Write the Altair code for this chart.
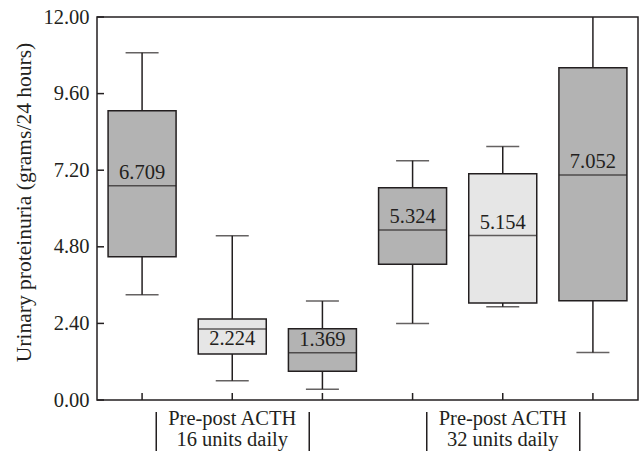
import altair as alt
import pandas as pd

# ---- data ----
cats = ["pre16", "post16", "after16", "pre32", "post32", "after32"]
whisk_lo = [3.30, 0.60, 0.34, 2.40, 2.92, 1.49]
q1 = [4.49, 1.44, 0.90, 4.25, 3.04, 3.11]
median = [6.709, 2.224, 1.48, 5.324, 5.154, 7.052]
q3 = [9.06, 2.54, 2.23, 6.65, 7.09, 10.41]
whisk_hi = [10.88, 5.15, 3.10, 7.50, 7.94, 12.6]
labels = ["6.709", "2.224", "1.369", "5.324", "5.154", "7.052"]
label_side = ["above", "below", "above", "above", "above", "above"]
shade = ["dark", "light", "dark", "dark", "light", "dark"]

y_ticks = [0.0, 2.4, 4.8, 7.2, 9.6, 12.0]
group_cats = ["post16", "post32"]
group_labels = ["Pre-post ACTH\n16 units daily", "Pre-post ACTH\n32 units daily"]

FONT = "Liberation Serif"
INK = "#231f20"
FS = 20.5
SW = 1.5
W, H = 541, 383

df = pd.DataFrame(dict(cat=cats, lo=whisk_lo, q1=q1, med=median, q3=q3,
                       hi=whisk_hi, label=labels, side=label_side, shade=shade))
ticks_df = pd.DataFrame(dict(v=y_ticks))
xt_df = pd.DataFrame(dict(cat=cats))
grp_df = pd.DataFrame(dict(cat=group_cats, text=group_labels))

xs = alt.Scale(domain=cats, paddingInner=0, paddingOuter=0)
ys = alt.Scale(domain=[0, 12], nice=False, zero=False)

X = alt.X("cat:N", scale=xs, axis=None)
Ybase = alt.Y("lo:Q", scale=ys,
              axis=alt.Axis(values=y_ticks, format=".2f", ticks=False, domain=False,
                            grid=False, labelPadding=8, labelFont=FONT, labelFontSize=FS,
                            labelColor=INK, title="Urinary proteinuria (grams/24 hours)",
                            titleFont=FONT, titleFontSize=21.5, titleFontWeight="normal",
                            titleColor=INK, titleX=-73, titleY=185, titleAngle=270,
                            titleAlign="center", titleBaseline="middle"))

base = alt.Chart(df)

whisker = base.mark_rule(color=INK, strokeWidth=SW, clip=True).encode(
    x=X, y=Ybase, y2="hi:Q")
box = base.mark_bar(size=68, stroke=INK, strokeWidth=SW).encode(
    x=X, y=alt.Y("q1:Q", scale=ys), y2="q3:Q",
    color=alt.Color("shade:N", scale=alt.Scale(domain=["dark", "light"],
                                               range=["#b3b3b3", "#e6e6e6"]), legend=None))
med = base.mark_tick(size=68, thickness=SW, color=INK).encode(
    x=X, y=alt.Y("med:Q", scale=ys))
cap_lo = base.mark_tick(size=33, thickness=SW, color=INK, clip=True).encode(
    x=X, y=alt.Y("lo:Q", scale=ys))
cap_hi = base.mark_tick(size=33, thickness=SW, color=INK, clip=True).encode(
    x=X, y=alt.Y("hi:Q", scale=ys))
lab_above = base.transform_filter(alt.datum.side == "above").mark_text(
    font=FONT, fontSize=FS, color=INK, baseline="alphabetic", dy=-7).encode(
    x=X, y=alt.Y("med:Q", scale=ys), text="label:N")
lab_below = base.transform_filter(alt.datum.side == "below").mark_text(
    font=FONT, fontSize=FS, color=INK, baseline="alphabetic", dy=16).encode(
    x=X, y=alt.Y("med:Q", scale=ys), text="label:N")

ytick_marks = alt.Chart(ticks_df).mark_rule(color=INK, strokeWidth=SW).encode(
    y=alt.Y("v:Q", scale=ys), x=alt.value(0), x2=alt.value(7))
xtick_marks = alt.Chart(xt_df).mark_rule(color=INK, strokeWidth=SW).encode(
    x=X, y=alt.value(H - 7), y2=alt.value(H))

grp_text = alt.Chart(grp_df).mark_text(
    font=FONT, fontSize=FS, color=INK, baseline="alphabetic", lineBreak="\n",
    lineHeight=21).encode(x=X, y=alt.value(408), text="text:N")
br_left = alt.Chart(grp_df).mark_rule(color=INK, strokeWidth=SW, xOffset=-76).encode(
    x=X, y=alt.value(395), y2=alt.value(436))
br_right = alt.Chart(grp_df).mark_rule(color=INK, strokeWidth=SW, xOffset=77).encode(
    x=X, y=alt.value(395), y2=alt.value(436))

chart = alt.layer(whisker, box, med, cap_lo, cap_hi, lab_above, lab_below,
                  ytick_marks, xtick_marks, grp_text, br_left, br_right).properties(
    width=W, height=H, autosize="none",
    padding={"left": 97, "top": 17, "right": 2, "bottom": 51},
    background="white",
).configure_view(stroke=INK, strokeWidth=SW)

chart.save("out.html", embed_options={"renderer": "svg", "actions": False})
